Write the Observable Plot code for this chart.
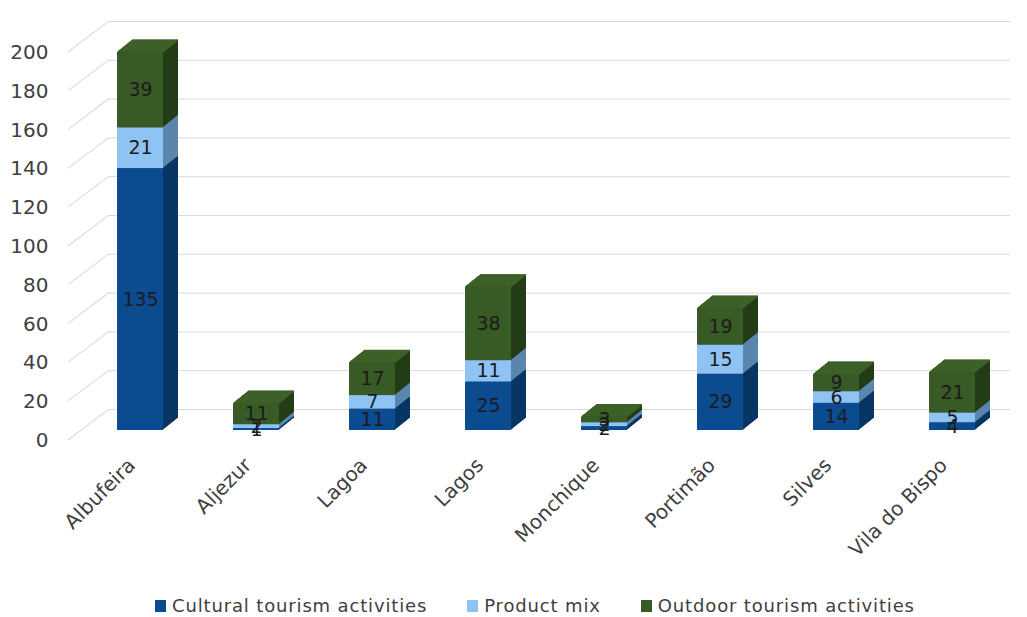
<!DOCTYPE html>
<html>
<head>
<meta charset="utf-8">
<script src="https://cdn.jsdelivr.net/npm/d3@7"></script>
<script src="https://cdn.jsdelivr.net/npm/@observablehq/plot@0.6"></script>
<style>
  html, body { margin: 0; padding: 0; background: #fff; }
  body { width: 1027px; height: 617px; overflow: hidden; font-family: "DejaVu Sans", sans-serif; }
  #legend { display: flex; align-items: center; margin-left: 155px; margin-top: 15px; font-size: 18px; letter-spacing: 0.85px; color: #404040; }
  .item { display: flex; align-items: center; gap: 6px; margin-right: 40px; }
  .sw { width: 11px; height: 12px; display: inline-block; }
</style>
</head>
<body>
<div id="chart"></div>
<div id="legend"></div>
<script>
const cities = ["Albufeira", "Aljezur", "Lagoa", "Lagos", "Monchique", "Portimão", "Silves", "Vila do Bispo"];
const seriesNames = ["Cultural tourism activities", "Product mix", "Outdoor tourism activities"];
const cultural = [135, 1, 11, 25, 2, 29, 14, 4];
const productMix = [21, 2, 7, 11, 2, 15, 6, 5];
const outdoor = [39, 11, 17, 38, 3, 19, 9, 21];
const yTicks = [0, 20, 40, 60, 80, 100, 120, 140, 160, 180, 200];

const frontColors = ["#0b4c91", "#8fc3f3", "#385a24"];
const sideColors = ["#073665", "#5a86ae", "#243c16"];
const topColor = "#3d6128";

const seriesValues = [cultural, productMix, outdoor];
const data = [];
cities.forEach((c, i) => {
  seriesValues.forEach((vals, s) => {
    data.push({city: c, series: seriesNames[s], s, value: vals[i]});
  });
});
const totals = cities.map((c, i) => ({city: c, total: cultural[i] + productMix[i] + outdoor[i]}));

const depth = 15;
const depthSteps = d3.range(depth, 0, -1);
const ratio = 0.8;

const marks = [];
// back-wall gridlines
marks.push(Plot.ruleY(yTicks, {y: d => d, stroke: "#d9d9d9", strokeWidth: 1, dx: 26, dy: -21, insetRight: 26}));
// floor diagonals from tick labels to wall
marks.push(Plot.vector(yTicks, {
  y: d => d, frameAnchor: "left", dx: -14, dy: 9, length: 50, rotate: 53, anchor: "start",
  stroke: "#d9d9d9", strokeWidth: 1,
  shape: {draw(context, l) { context.moveTo(0, 0); context.lineTo(0, -l); }}
}));
// side faces (extruded sweep)
for (const k of depthSteps) {
  marks.push(Plot.barY(data, {x: "city", y: "value", fill: d => sideColors[d.s], dx: k, dy: -k * ratio}));
}
// top faces
for (const k of depthSteps) {
  marks.push(Plot.tickY(totals, {x: "city", y: "total", stroke: topColor, strokeWidth: 1.6, dx: k, dy: -k * ratio}));
}
// front faces
marks.push(Plot.barY(data, {x: "city", y: "value", fill: d => frontColors[d.s]}));
// value labels
marks.push(Plot.text(data, Plot.stackY({x: "city", y: "value", text: d => String(d.value), fill: "#1c1c1c", fontSize: 19})));
// y tick labels
marks.push(Plot.text(yTicks, {y: d => d, text: d => String(d), frameAnchor: "left", textAnchor: "end", dx: -34, dy: 10, fill: "#404040", fontSize: 20}));
// x tick labels
marks.push(Plot.text(cities, {x: d => d, text: d => d, frameAnchor: "bottom", rotate: -45, textAnchor: "end", dx: -4, dy: 36, fill: "#404040", fontSize: 20}));

const chart = Plot.plot({
  width: 1027,
  height: 580,
  marginLeft: 82,
  marginRight: 17,
  marginTop: 42,
  marginBottom: 150,
  style: {fontFamily: "'DejaVu Sans', sans-serif", background: "#fff", overflow: "visible"},
  x: {domain: cities, paddingInner: 0.6, paddingOuter: 0.3, axis: null},
  y: {domain: [0, 200], axis: null},
  color: {type: "identity"},
  marks
});
document.getElementById("chart").appendChild(chart);

const legend = document.getElementById("legend");
seriesNames.forEach((n, i) => {
  const item = document.createElement("div");
  item.className = "item";
  const sw = document.createElement("span");
  sw.className = "sw";
  sw.style.background = frontColors[i];
  const t = document.createElement("span");
  t.textContent = n;
  item.appendChild(sw);
  item.appendChild(t);
  legend.appendChild(item);
});
</script>
</body>
</html>
